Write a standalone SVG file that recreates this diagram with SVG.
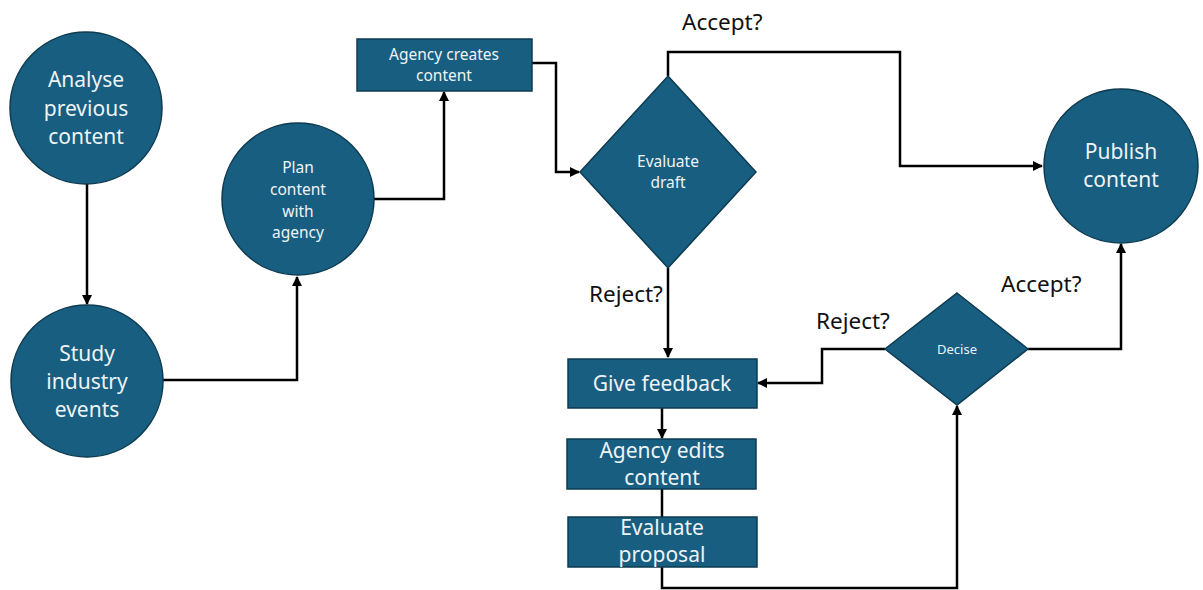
<svg xmlns="http://www.w3.org/2000/svg" width="1203" height="590" viewBox="0 0 1203 590">
  <style>
    .node { fill: #175E80; stroke: #0E3B50; stroke-width: 1.5; }
    .ntext { fill: #EEF3F6; font-family: "Noto Sans", "Open Sans", sans-serif; text-anchor: middle; }
    .label { fill: #111; font-family: "Noto Sans", "Open Sans", sans-serif; font-size: 22.5px; }
    .conn { fill: none; stroke: #000; stroke-width: 2.5; }
  </style>
  <defs>
    <marker id="arrow" viewBox="0 0 10 10" refX="9" refY="5" markerWidth="4" markerHeight="4" orient="auto" markerUnits="strokeWidth">
      <path d="M0,0 L10,5 L0,10 z" fill="#000"/>
    </marker>
  </defs>

  <rect width="1203" height="590" fill="#fff"/>

  <g id="connectors">
    <path class="conn" d="M87,184 L87,304" marker-end="url(#arrow)"/>
    <path class="conn" d="M163,380 L297,380 L297,277" marker-end="url(#arrow)"/>
    <path class="conn" d="M374,199 L444,199 L444,92" marker-end="url(#arrow)"/>
    <path class="conn" d="M532,63 L556,63 L556,172 L579,172" marker-end="url(#arrow)"/>
    <path class="conn" d="M668,76 L668,52 L900,52 L900,166 L1042,166" marker-end="url(#arrow)"/>
    <path class="conn" d="M668,268 L668,357" marker-end="url(#arrow)"/>
    <path class="conn" d="M885,349 L822,349 L822,383 L758,383" marker-end="url(#arrow)"/>
    <path class="conn" d="M1028,349 L1121,349 L1121,244" marker-end="url(#arrow)"/>
    <path class="conn" d="M662,408 L662,438" marker-end="url(#arrow)"/>
    <path class="conn" d="M662,489 L662,517"/>
    <path class="conn" d="M662,567 L662,588 L957,588 L957,406" marker-end="url(#arrow)"/>
  </g>

  <g id="analyse">
    <circle class="node" cx="86" cy="108" r="76"/>
    <text class="ntext" font-size="21"><tspan x="86" y="87">Analyse</tspan><tspan x="86" y="116">previous</tspan><tspan x="86" y="144">content</tspan></text>
  </g>
  <g id="study">
    <circle class="node" cx="87" cy="381" r="76"/>
    <text class="ntext" font-size="21"><tspan x="87" y="361">Study</tspan><tspan x="87" y="389">industry</tspan><tspan x="87" y="417">events</tspan></text>
  </g>
  <g id="plan">
    <circle class="node" cx="298" cy="199" r="76"/>
    <text class="ntext" font-size="15.5"><tspan x="298" y="173">Plan</tspan><tspan x="298" y="195">content</tspan><tspan x="298" y="217">with</tspan><tspan x="298" y="238">agency</tspan></text>
  </g>
  <g id="agency-creates">
    <rect class="node" x="357" y="39" width="175" height="52"/>
    <text class="ntext" font-size="15.5"><tspan x="444" y="60">Agency creates</tspan><tspan x="444" y="81">content</tspan></text>
  </g>
  <g id="evaluate-draft">
    <polygon class="node" points="668,76 756,172 668,268 580,172"/>
    <text class="ntext" font-size="15.5"><tspan x="668" y="167">Evaluate</tspan><tspan x="668" y="188">draft</tspan></text>
  </g>
  <g id="publish">
    <circle class="node" cx="1121" cy="166" r="77"/>
    <text class="ntext" font-size="21"><tspan x="1121" y="159">Publish</tspan><tspan x="1121" y="187">content</tspan></text>
  </g>
  <g id="decise">
    <polygon class="node" points="957,293 1028,349 957,405 885,349"/>
    <text class="ntext" font-size="13" x="957" y="354">Decise</text>
  </g>
  <g id="give-feedback">
    <rect class="node" x="568" y="359" width="189" height="49"/>
    <text class="ntext" font-size="21" x="662" y="391">Give feedback</text>
  </g>
  <g id="agency-edits">
    <rect class="node" x="567" y="439" width="189" height="50"/>
    <text class="ntext" font-size="21"><tspan x="662" y="458">Agency edits</tspan><tspan x="662" y="485">content</tspan></text>
  </g>
  <g id="evaluate-proposal">
    <rect class="node" x="568" y="517" width="189" height="50"/>
    <text class="ntext" font-size="21"><tspan x="662" y="535">Evaluate</tspan><tspan x="662" y="562">proposal</tspan></text>
  </g>

  <g id="labels">
    <text class="label" x="682" y="30">Accept?</text>
    <text class="label" x="589" y="302">Reject?</text>
    <text class="label" x="816" y="329">Reject?</text>
    <text class="label" x="1001" y="292">Accept?</text>
  </g>
</svg>
